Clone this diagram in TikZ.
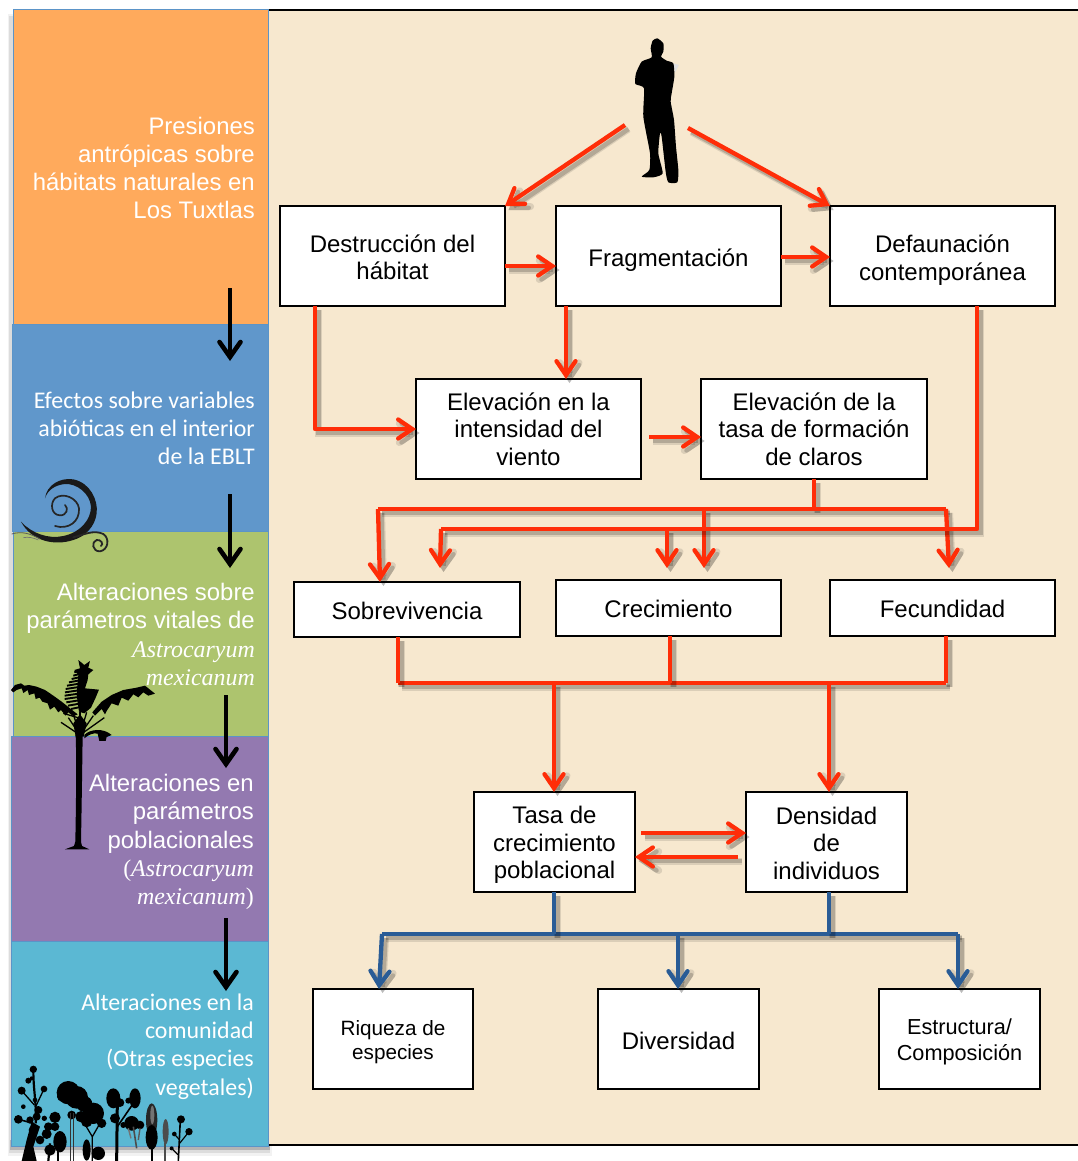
\documentclass[tikz,border=0pt]{standalone}
\usepackage{fontspec}
\setmainfont{Liberation Sans}
\newfontfamily\carlitof{Carlito}
\newfontfamily\timesf{Liberation Serif}
\usetikzlibrary{arrows.meta}
\definecolor{panelbg}{HTML}{F7E8CF}
\definecolor{bandedge}{HTML}{5B94C8}
\definecolor{orangeband}{HTML}{FFAA5C}
\definecolor{blueband}{HTML}{6097CB}
\definecolor{greenband}{HTML}{ADC46E}
\definecolor{purpleband}{HTML}{9379B0}
\definecolor{cyanband}{HTML}{5BB8D3}
\definecolor{redline}{HTML}{FF2D08}
\definecolor{blueline}{HTML}{2A5C96}
\newcommand{\Ast}[1]{{\timesf\itshape #1}}
\newcommand{\lowr}[1]{\rule{0pt}{#1pt}}
\tikzset{
  x=1pt,y=-1pt,
  band/.style={fill=#1,draw=bandedge,line width=1pt},
  box/.style={draw=black,fill=white,line width=1.8pt,align=center,inner sep=0pt,outer sep=0pt,anchor=north west,
    font=\fontsize{24}{27.5}\selectfont,text=black},
  smallbox/.style={box,font=\fontsize{21.7}{26}\selectfont},
  sidetxt/.style={text=white,align=right,anchor=east,inner sep=0pt,font=\fontsize{23.9}{28.2}\selectfont},
  sidecal/.style={text=white,align=right,anchor=east,inner sep=0pt,font=\carlitof\fontsize{23.9}{28.2}\selectfont},
  softshadow/.style={
    preaction={draw=black,opacity=.11,line width=7pt,transform canvas={shift={(3.5pt,-4pt)}}},
    preaction={draw=black,opacity=.18,line width=4.5pt,transform canvas={shift={(3.5pt,-4pt)}}}},
  tipr/.style={-{Straight Barb[length=14pt,width=19pt,line cap=round]}},
  redl/.style={draw=redline,line width=4.3pt,line join=round,softshadow},
  redend/.style={redl,tipr},
  bluel/.style={draw=blueline,line width=4.3pt,line join=round,softshadow},
  blueend/.style={bluel,tipr},
  blackend/.style={draw=black,line width=4.6pt,-{Straight Barb[length=15pt,width=21pt,line cap=round]}},
}
\begin{document}
\begin{tikzpicture}
\useasboundingbox (0,0) rectangle (1077,1161);
\fill[white] (0,0) rectangle (1077,1161);
% shadow of the bands
\fill[black,opacity=.05] (8,14) rectangle (272,1156);
\fill[black,opacity=.09] (9,16) rectangle (270,1153);
\fill[black,opacity=.18] (10,1140) rectangle (270,1150);
% right panel
\draw[fill=panelbg,line width=1.4pt] (1080,10) -- (268,10) -- (268,1145) -- (1080,1145);
% bands
\path[band=orangeband] (13,10) rectangle (268,324);
\path[band=blueband] (12,324) rectangle (268,531);
\path[band=greenband] (13,531) rectangle (268,736);
\path[band=purpleband] (11,736) rectangle (268,941);
\path[band=cyanband] (11,941) rectangle (268,1146);
% band texts
\node[sidetxt] (t1) at (255,168) {Presiones\\antrópicas sobre\\hábitats naturales en\\Los Tuxtlas};
\node[sidecal] (t2) at (255,428.5) {Efectos sobre variables\\abióticas en el interior\\de la EBLT};
\node[sidetxt] (t3) at (255,634.5) {Alteraciones sobre\\parámetros vitales de\\\Ast{Astrocaryum}\\\Ast{mexicanum}};
\node[sidetxt] (t4) at (254,842) {Alteraciones en\\parámetros\\poblacionales\\{\timesf(\itshape Astrocaryum}\\{\timesf\itshape mexicanum\upshape)}};
\node[sidecal] (t5) at (254,1046.5) {Alteraciones en la\\comunidad\\(Otras especies\\vegetales)};
% band arrows
\coordinate (b1a) at (230,288); \coordinate (b1b) at (230,361);
\coordinate (b2a) at (230,494); \coordinate (b2b) at (230,568);
\coordinate (b3a) at (226,695); \coordinate (b3b) at (226,768);
\coordinate (b4a) at (226,918); \coordinate (b4b) at (226,991);
\draw[blackend] (b1a) -- (b1b);
\draw[blackend] (b2a) -- (b2b);
\draw[blackend] (b3a) -- (b3b);
\draw[blackend] (b4a) -- (b4b);
% swirl
\begin{scope}[shift={(5,470)},x=.3333pt,y=-.3333pt]
\fill[black!90] (120,85) .. controls (125,45) and (165,22) .. (205,28)
  .. controls (255,38) and (280,90) .. (275,130) .. controls (270,170) and (240,200) .. (205,210)
  .. controls (150,228) and (80,215) .. (48,155) .. controls (80,190) and (130,208) .. (175,198)
  .. controls (225,188) and (258,150) .. (258,110) .. controls (255,70) and (215,40) .. (180,42)
  .. controls (150,45) and (128,60) .. (120,85) -- cycle;
\draw[black!85,line width=1.7pt,line cap=round] (150,168) .. controls (190,180) and (225,155) .. (222,115)
  .. controls (218,85) and (175,65) .. (150,85) .. controls (135,100) and (138,135) .. (165,136) .. controls (185,137) and (192,115) .. (180,105);
\draw[black!85,line width=1.8pt,line cap=round] (205,202) .. controls (235,195) and (265,178) .. (295,192)
  .. controls (315,205) and (310,240) .. (285,244) .. controls (262,245) and (258,215) .. (275,210) .. controls (288,208) and (297,222) .. (288,228);
\draw[black!65,line width=.8pt] (20,192) .. controls (50,183) and (75,190) .. (105,207);
\draw[black!55,line width=.7pt] (55,203) .. controls (70,200) and (85,203) .. (100,210);
\end{scope}
% palm
\begin{scope}[shift={(5,655)},x=.3333pt,y=-.3333pt]
\fill[black] (18,105) -- (30,90) -- (48,85) -- (58,92) -- (72,90) -- (95,95) -- (120,105) -- (145,122) -- (170,140) -- (195,160) -- (218,178) -- (205,184) -- (190,172) -- (182,182) -- (168,165) -- (160,172) -- (148,155) -- (135,164) -- (128,145) -- (112,140) -- (104,128) -- (92,132) -- (88,115) -- (72,120) -- (68,105) -- (55,114) -- (50,100) -- (35,105) -- (25,112) -- cycle;
\fill[black] (262,172) -- (290,140) -- (320,120) -- (355,105) -- (395,98) -- (420,92) -- (450,116) -- (430,122) -- (415,112) -- (400,127) -- (385,118) -- (370,137) -- (350,128) -- (340,152) -- (320,145) -- (305,168) -- (300,178) -- (290,162) -- (270,182) -- cycle;
\fill[black] (220,15) -- (238,30) -- (255,18) -- (250,38) -- (265,45) -- (250,58) -- (248,75) -- (240,100) -- (282,104) -- (272,128) -- (258,158) -- (238,175) -- (222,170) -- (215,120) -- (220,60) -- (208,45) -- (225,40) -- cycle;
\foreach \yy/\xl in {50/208,60/205,70/200,80/192,90/186,100/182,110/180,120/179,130/179,140/184,150/189,160/198}
  \draw[black,line width=1.9pt] (235,\yy-6) -- (\xl,\yy+2);
\foreach \xe/\ye in {168/202,190/188,205/178,225/172,245/172,265/182,298/188}
  \draw[black,line width=1.3pt] (225,240) -- (\xe,\ye);
\draw[black,line width=1.3pt] (175,175) -- (225,190);
\fill[black] (205,205) -- (225,178) -- (245,205) -- (236,245) -- (212,245) -- cycle;
\fill[black] (238,240) .. controls (255,222) and (295,218) .. (320,240) -- (305,246) -- (302,258) -- (283,258) -- (278,236) .. controls (265,232) and (250,240) .. (238,250) -- cycle;
\fill[black] (212,240) -- (233,240) .. controls (232,315) and (230,455) .. (228,560) -- (231,573) -- (253,583) -- (180,583) -- (207,573) -- (211,560) .. controls (213,455) and (215,315) .. (212,240) -- cycle;
\end{scope}
% plants
\begin{scope}
\clip (0,0) rectangle (1077,1161);
\begin{scope}[shift={(5,1060)},x=.3333pt,y=-.3333pt]
% plant 1
\foreach \cx/\cy/\rr in {85/28/11,70/62/9,117/87/10,50/92/12,55/140/7,40/178/13,100/150/12,90/120/7,80/55/6,75/180/11,118/175/8,95/170/12,85/210/14}
  \fill[black] (\cx,\cy) circle (\rr);
\fill[black] (50,303) -- (65,240) -- (80,185) -- (105,200) -- (85,260) -- (95,303) -- cycle;
\draw[black,line width=2.2pt] (85,32) .. controls (85,90) and (95,130) .. (92,190);
\draw[black,line width=1.6pt] (40,178) -- (85,190);
\draw[black,line width=1.3pt] (50,92) -- (88,135);
\draw[black,line width=1.3pt] (117,87) -- (92,140);
% plant 2
\foreach \cx/\cy/\rr in {150/172/17,125/222/15,135/270/17,105/240/13,130/200/13,150/200/13}
  \fill[black] (\cx,\cy) circle (\rr);
\fill[black] (165,245) ellipse (20 and 32);
\draw[black,line width=2.2pt] (130,303) -- (135,250);
\draw[black,line width=2.2pt] (160,303) -- (160,250);
% plant 3
\foreach \cx/\cy/\rr in {190/98/35,215/112/34,238/132/24,265/160/32,170/110/14,228/170/17,245/185/17,290/190/14,200/165/13,280/280/20}
  \fill[black] (\cx,\cy) circle (\rr);
\fill[black] (245,270) ellipse (12 and 32);
\draw[black!80,line width=1.4pt] (197,160) -- (197,303);
\draw[black!80,line width=1.2pt] (206,160) -- (206,303);
\draw[black,line width=1.3pt] (232,180) -- (262,230) -- (262,303);
\draw[black,line width=1.3pt] (285,190) -- (262,230);
% plant 4
\fill[black] (325,115) ellipse (21 and 30); \fill[black] (390,115) ellipse (17 and 30);
\foreach \cx/\cy/\rr in {345/128/13,370/122/9,330/175/15,380/190/22,405/195/13,355/195/9}
  \fill[black] (\cx,\cy) circle (\rr);
\draw[black,line width=3pt] (335,303) -- (337,130);
\draw[black,line width=1.6pt] (337,200) -- (385,130);
\draw[black!70,line width=1.6pt] (385,200) -- (395,265);
\draw[black!55,line width=1.4pt] (370,205) -- (378,235);
\draw[black!65,line width=1.4pt] (405,205) -- (400,240);
% plant 5
\fill[black!85] (440,180) ellipse (17 and 50); \fill[black] (440,232) ellipse (18 and 37);
\fill[black!55] (442,165) ellipse (6 and 28);
\draw[black,line width=2pt] (440,250) -- (440,303);
% plant 6
\fill[black!70] (482,215) ellipse (9 and 38);
\draw[black!70,line width=1.4pt] (480,250) -- (480,303);
% plant 7
\foreach \cx/\cy/\rr in {528/178/12,552/215/11,508/222/7,500/265/6}
  \fill[black] (\cx,\cy) circle (\rr);
\draw[black,line width=1.6pt] (520,303) -- (526,180);
\draw[black,line width=1.2pt] (524,250) -- (552,215);
\draw[black,line width=1.2pt] (524,240) -- (508,222);
\draw[black,line width=1.2pt] (520,285) -- (500,265);
\end{scope}
\end{scope}
% man
\begin{scope}[shift={(600,20)},x=.3333pt,y=-.3333pt]
\fill[black!12] (220,130) -- (237,135) -- (225,158) -- cycle;
\fill[black] plot[smooth cycle,tension=.35] coordinates {(172,55) (190,70) (190,95) (183,110) (200,122) (220,130) (223,170) (215,220) (212,245) (222,300) (228,380) (235,450) (232,487) (205,487) (197,455) (185,350) (180,340) (175,400) (188,460) (160,472) (125,470) (148,450) (150,400) (130,290) (132,205) (106,192) (108,160) (125,125) (155,112) (152,85) (158,62)};
\end{scope}
% boxes
\node[box,minimum width=225pt,minimum height=100pt] (dest) at (280,206) {\lowr{20}Destrucción del\\hábitat};
\node[box,minimum width=225pt,minimum height=100pt] (frag) at (556,206) {\lowr{25}Fragmentación};
\node[box,minimum width=225pt,minimum height=100pt] (defa) at (830,206) {\lowr{25.5}Defaunación\\contemporánea};
\node[box,minimum width=225pt,minimum height=100pt] (vien) at (416,379) {Elevación en la\\intensidad del\\viento};
\node[box,minimum width=226pt,minimum height=100pt] (clar) at (701,379) {Elevación de la\\tasa de formación\\de claros};
\node[box,minimum width=226pt,minimum height=55pt] (sobr) at (294,582) {\lowr{20}Sobrevivencia};
\node[box,minimum width=225pt,minimum height=56pt] (crec) at (556,580) {\lowr{20}Crecimiento};
\node[box,minimum width=225pt,minimum height=56pt] (fecu) at (830,580) {\lowr{20}Fecundidad};
\node[box,minimum width=161pt,minimum height=100pt] (tasa) at (474,792) {\lowr{23.5}Tasa de\\crecimiento\\poblacional};
\node[box,minimum width=161pt,minimum height=100pt] (dens) at (746,792) {\lowr{19.5}Densidad\\de\\individuos};
\node[smallbox,minimum width=160pt,minimum height=100pt,font=\fontsize{20.7}{24.5}\selectfont] (riqu) at (313,989) {\lowr{21}Riqueza de\\especies};
\node[box,minimum width=161pt,minimum height=100pt] (dive) at (598,989) {\lowr{22}Diversidad};
\node[smallbox,minimum width=161pt,minimum height=100pt] (estr) at (879,989) {\lowr{22}Estructura/\\Composición};
% free ends
\coordinate (manL) at (625,125); \coordinate (manR) at (688,128);
\coordinate (j1L) at (378,509); \coordinate (j1R) at (946,509); \coordinate (j1M) at (704,509);
\coordinate (j2L) at (441,529); \coordinate (j2R) at (977,529); \coordinate (j2M) at (667,529);
\coordinate (j3L) at (398,683); \coordinate (j3R) at (946,683); \coordinate (j3A) at (554,683); \coordinate (j3B) at (829,683);
\coordinate (j4L) at (382,934); \coordinate (j4R) at (958,934); \coordinate (j4M) at (678,934);
% connectors
\draw[redend] (manL) -- (505,206);
\draw[redend] (manR) -- (830,206);
\draw[redend] (dest.east |- 0,266) -- (frag.west |- 0,266);
\draw[redend] (frag.east |- 0,257) -- (defa.west |- 0,257);
\draw[redend] (frag.south -| 566,0) -- (vien.north -| 566,0);
\draw[redend] (dest.south -| 315,0) -- (315,429) -- (vien.west |- 0,429);
\draw[redend] (649,437) -- (clar.west |- 0,437);
\draw[redl] (clar.south -| 814,0) -- (814,509);
\draw[redl] (j1L) -- (j1R);
\draw[redend] (j1L) -- (sobr.north -| 380,0);
\draw[redend] (j1M) -- (704,568);
\draw[redend] (j1R) -- (949,568);
\draw[redl] (defa.south -| 977,0) -- (j2R) -- (j2L);
\draw[redend] (j2L) -- (440,568);
\draw[redend] (j2M) -- (667,568);
\draw[redl] (j3L) -- (j3R);
\draw[redl] (sobr.south -| 398,0) -- (j3L);
\draw[redl] (crec.south -| 670,0) -- (670,683);
\draw[redl] (fecu.south -| 946,0) -- (j3R);
\draw[redend] (j3A) -- (tasa.north -| 554,0);
\draw[redend] (j3B) -- (dens.north -| 829,0);
\draw[redend] (641,833) -- (dens.west |- 0,833);
\draw[redend] (738,857) -- (tasa.east |- 0,857);
\draw[bluel] (j4L) -- (j4R);
\draw[bluel] (tasa.south -| 554,0) -- (554,934);
\draw[bluel] (dens.south -| 829,0) -- (829,934);
\draw[blueend] (j4L) -- (riqu.north -| 379,0);
\draw[blueend] (j4M) -- (dive.north -| 678,0);
\draw[blueend] (j4R) -- (estr.north -| 958,0);
\end{tikzpicture}
\end{document}
